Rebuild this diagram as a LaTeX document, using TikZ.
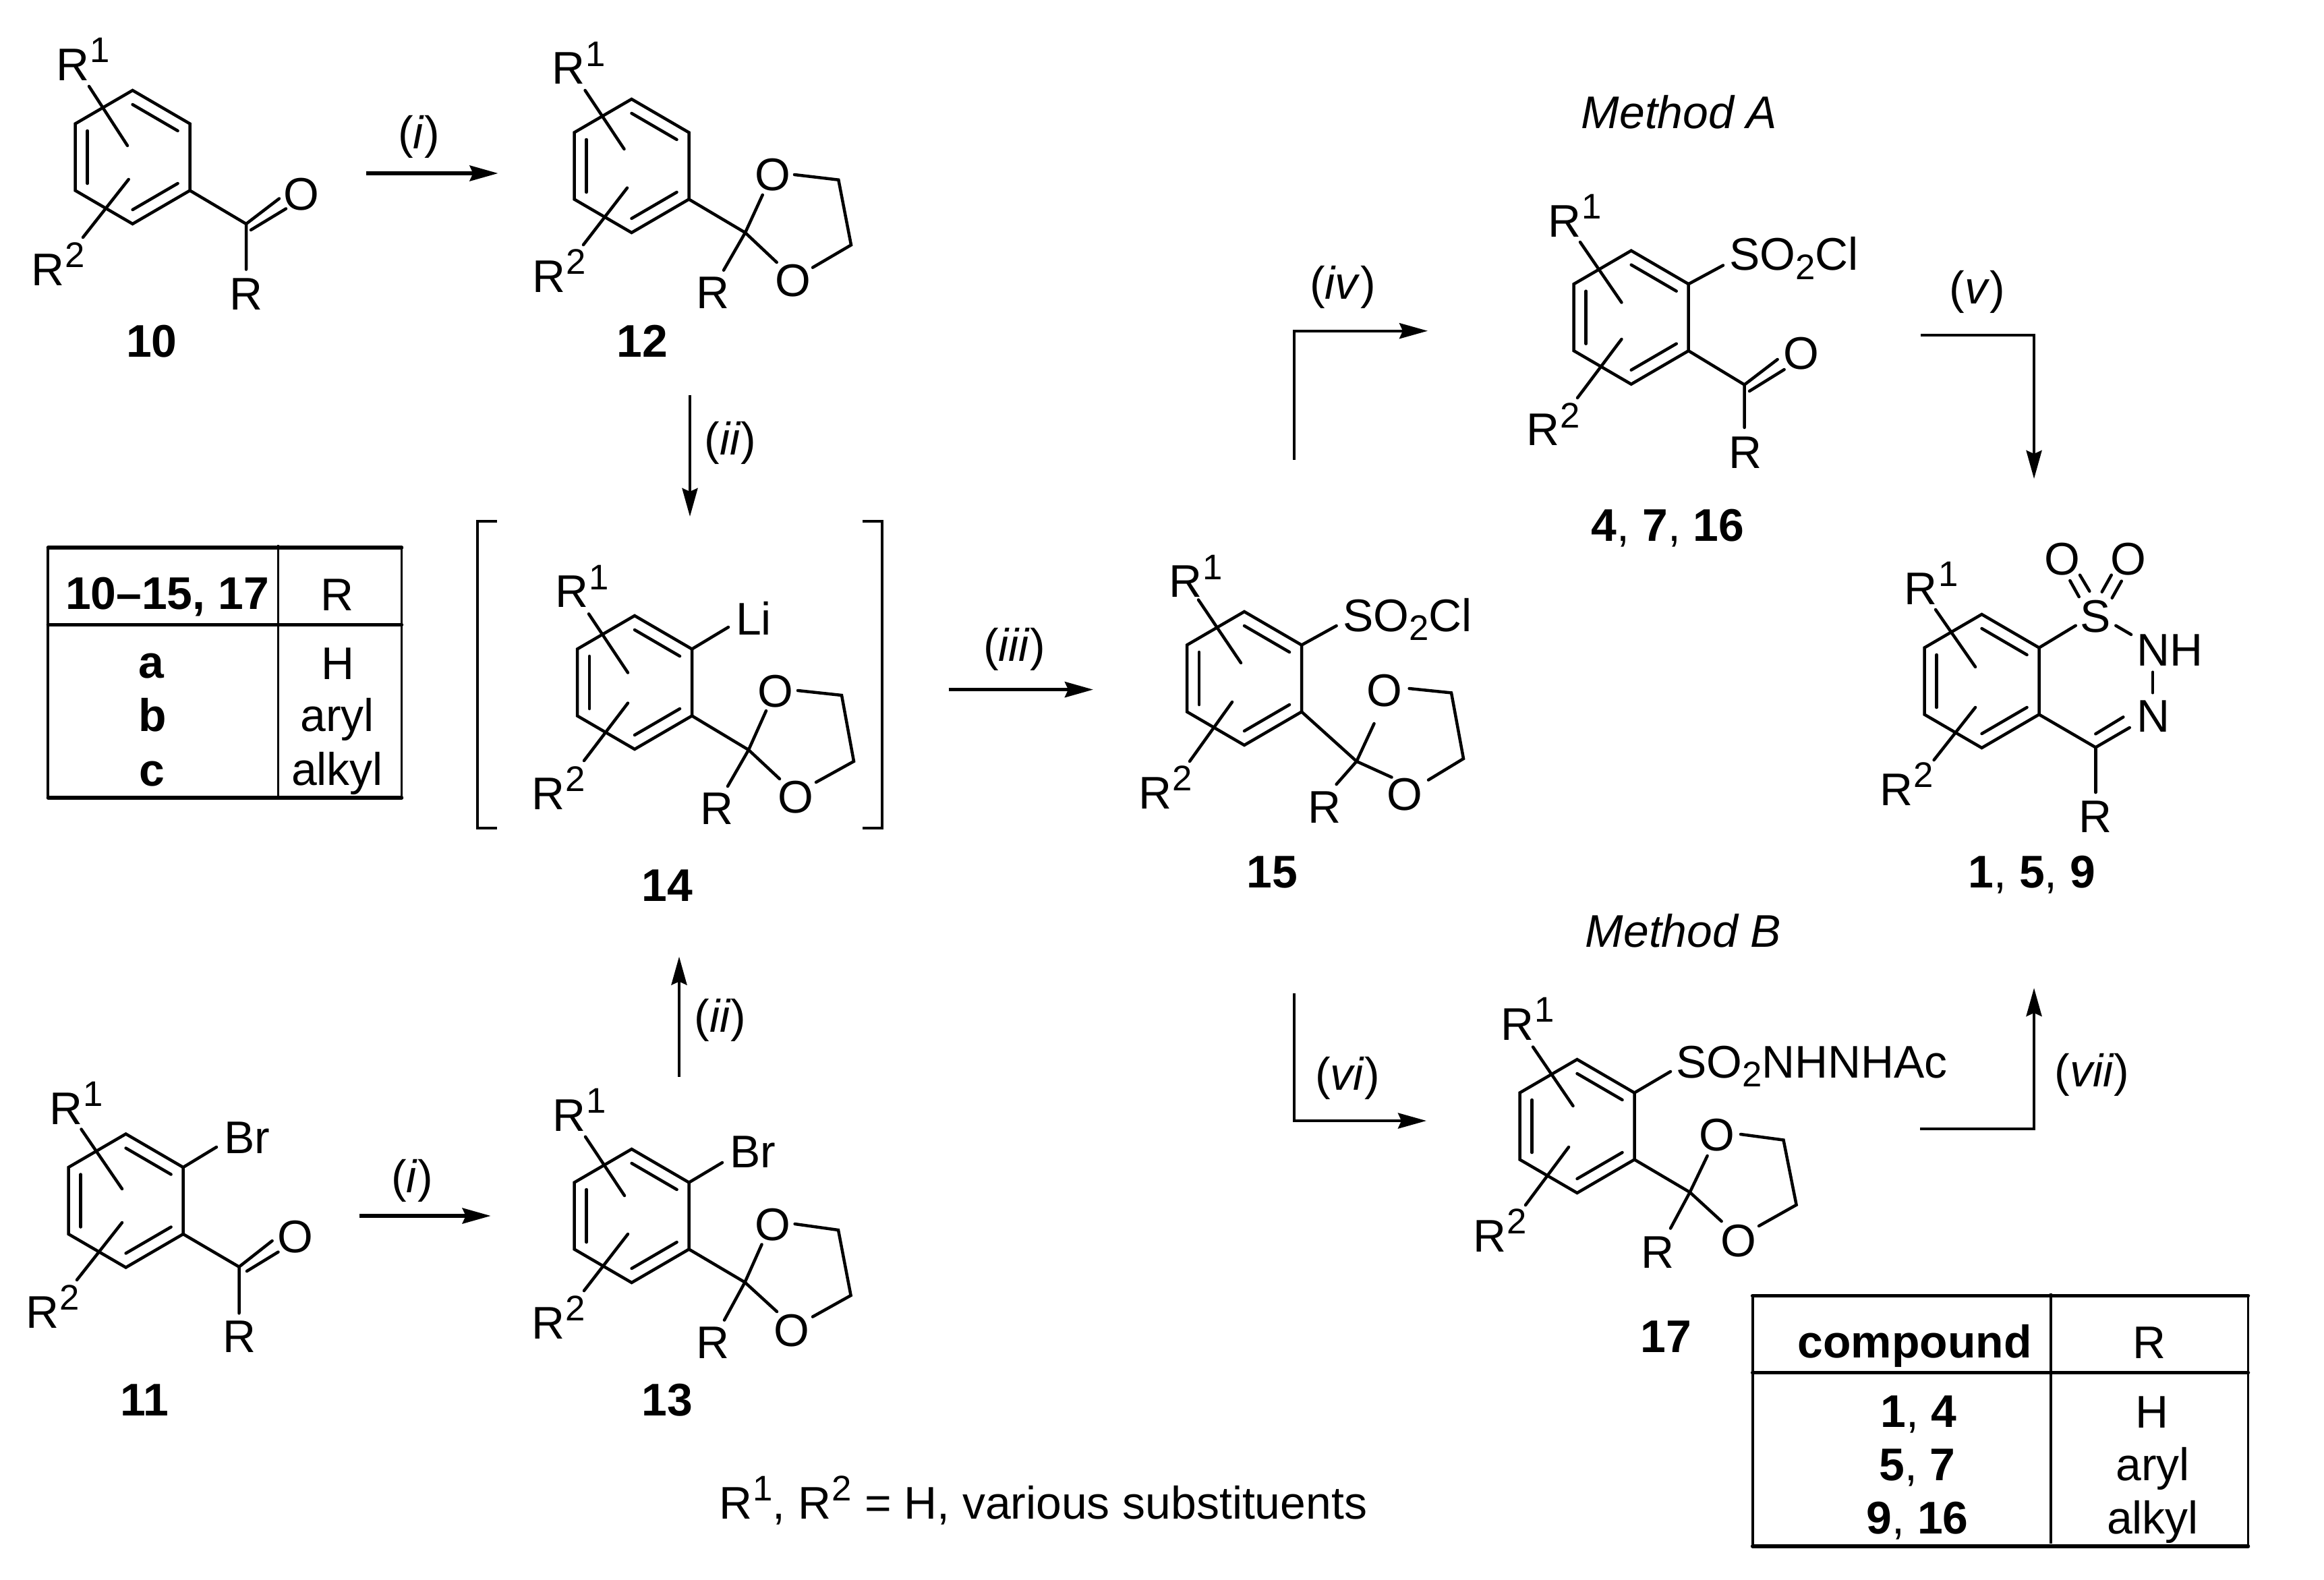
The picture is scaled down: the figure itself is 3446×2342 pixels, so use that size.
\documentclass[tikz,border=0pt]{standalone}
\usepackage{fontspec}
\setmainfont{Liberation Sans}
\usetikzlibrary{arrows.meta}
\newcommand\Supr[1]{\kern0.02em\raisebox{0.385em}{\fontsize{15}{17}\selectfont #1}}
\newcommand\Subr[1]{\raisebox{-0.2em}{\fontsize{15}{17}\selectfont #1}}
\newcommand\benz[3]{%
  \coordinate (#1) at (#2,#3);
  \coordinate (#1-t) at ([shift={(0,-99)}]#1);
  \coordinate (#1-ur) at ([shift={(85,-49.5)}]#1);
  \coordinate (#1-lr) at ([shift={(85,49.5)}]#1);
  \coordinate (#1-b) at ([shift={(0,99)}]#1);
  \coordinate (#1-ll) at ([shift={(-85,49.5)}]#1);
  \coordinate (#1-ul) at ([shift={(-85,-49.5)}]#1);
  \draw[bond] (#1-t) -- (#1-ur) -- (#1-lr) -- (#1-b) -- (#1-ll) -- (#1-ul) -- cycle;
  \draw[bond] ([shift={(0,-78)}]#1) -- ([shift={(67,-39)}]#1);
  \draw[bond] ([shift={(67,39)}]#1) -- ([shift={(0,78)}]#1);
  \draw[bond] ([shift={(-67,39)}]#1) -- ([shift={(-67,-39)}]#1);
}
\tikzset{
  x=0.01cm,y=-0.01cm,
  bond/.style={line width=1.28pt,line cap=round},
  rxn/.style={line width=1.45pt,-{Stealth[length=0.42cm,width=0.23cm,inset=0.05cm]}},
  rxnv/.style={line width=1.2pt,-{Stealth[length=0.42cm,width=0.23cm,inset=0.05cm]}},
  plainl/.style={line width=1.4pt},
  tabh/.style={line width=1.55pt,line cap=round},
  tabv/.style={line width=1.1pt},
  txt/.style={inner sep=0pt,outer sep=0pt,anchor=base,font=\fontsize{19.3}{22}\selectfont},
  txl/.style={txt,anchor=base west},
}
\begin{document}
\begin{tikzpicture}
\useasboundingbox (0,0) rectangle (3446,2342);

% ---- 10
\benz{mA}{196.6}{233}
\draw[bond] (132,128) -- (189,216);
\draw[bond] (190.7,266) -- (123,352);
\coordinate (cA) at (365,332);
\draw[bond] (mA-lr) -- (cA) -- (365,399.5);
\draw[bond] (cA) -- (414,294.5);
\draw[bond] (372,341) -- (424,309.5);
\node[txl] (a1) at (83,119) {R\Supr{1}};
\node[txl] (a2) at (46,423) {R\Supr{2}};
\node[txt] (a3) at (447,311) {O};
\node[txl] (a4) at (340,459) {R};
\node[txt] (a5) at (225,529) {\textbf{10}};

% ---- 12
\benz{mB}{936.5}{246}
\draw[bond] (867.6,134) -- (925.5,221);
\draw[bond] (930,278.6) -- (865,363);
\coordinate (cB) at (1105,345);
\draw[bond] (mB-lr) -- (cB) -- (1130.7,289);
\draw[bond] (cB) -- (1151.7,389);
\draw[bond] (cB) -- (1073,400.7);
\draw[bond] (1178,259) -- (1243.3,266.7) -- (1262,363.3) -- (1205,396.7);
\node[txl] (b1) at (818.6,124.4) {R\Supr{1}};
\node[txl] (b2) at (789,433) {R\Supr{2}};
\node[txt] (b3) at (1145.7,282) {O};
\node[txt] (b4) at (1175.7,439) {O};
\node[txl] (b5) at (1032,457.3) {R};
\node[txt] (b6) at (952,529) {\textbf{12}};

% ---- 14
\benz{mC}{941}{1012}
\draw[bond] (873,910.4) -- (931,997.5);
\draw[bond] (931,1042.6) -- (866,1128);
\draw[bond] (mC-ur) -- (1080,930);
\coordinate (cC) at (1110,1112);
\draw[bond] (mC-lr) -- (cC) -- (1136,1054);
\draw[bond] (cC) -- (1156,1155);
\draw[bond] (cC) -- (1079,1166);
\draw[bond] (1183,1024) -- (1248,1031) -- (1266,1129) -- (1210,1160);
\node[txl] (c1) at (823,900.6) {R\Supr{1}};
\node[txl] (c2) at (788,1200) {R\Supr{2}};
\node[txl] (c3) at (1091,941) {Li};
\node[txt] (c4) at (1150,1048) {O};
\node[txt] (c5) at (1180,1205) {O};
\node[txl] (c6) at (1038,1222) {R};
\node[txt] (c7) at (989,1336) {\textbf{14}};
\draw[plainl] (737,773) -- (708,773) -- (708,1228) -- (737,1228);
\draw[plainl] (1279,773) -- (1308,773) -- (1308,1228) -- (1279,1228);

% ---- 11
\benz{mD}{186.6}{1780.5}
\draw[bond] (120.5,1674.5) -- (181,1763);
\draw[bond] (181,1813) -- (114,1898);
\draw[bond] (mD-ur) -- (321,1701);
\coordinate (cD) at (354.5,1878.6);
\draw[bond] (mD-lr) -- (cD) -- (354.5,1947.4);
\draw[bond] (cD) -- (403.6,1840);
\draw[bond] (366,1885) -- (412.5,1856.6);
\node[txl] (d1) at (73,1667) {R\Supr{1}};
\node[txl] (d2) at (38,1969) {R\Supr{2}};
\node[txl] (d3) at (332.5,1710) {Br};
\node[txt] (d4) at (437.5,1857) {O};
\node[txl] (d5) at (330,2005) {R};
\node[txt] (d6) at (214,2099) {\textbf{11}};

% ---- 13
\benz{mE}{936.6}{1803}
\draw[bond] (868,1685.7) -- (926,1773);
\draw[bond] (931,1830) -- (866,1914);
\draw[bond] (mE-ur) -- (1071,1724);
\coordinate (cE) at (1104.5,1901.5);
\draw[bond] (mE-lr) -- (cE) -- (1129.5,1845.4);
\draw[bond] (cE) -- (1152,1945);
\draw[bond] (cE) -- (1074,1957.6);
\draw[bond] (1178.6,1815) -- (1243,1824) -- (1261.6,1921) -- (1205,1952.6);
\node[txl] (e1) at (819,1677) {R\Supr{1}};
\node[txl] (e2) at (788,1985) {R\Supr{2}};
\node[txl] (e3) at (1082.5,1731.6) {Br};
\node[txt] (e4) at (1145.5,1839) {O};
\node[txt] (e5) at (1174,1996) {O};
\node[txl] (e6) at (1032.5,2014) {R};
\node[txt] (e7) at (989,2099) {\textbf{13}};

% ---- 15
\benz{mF}{1845}{1006}
\draw[bond] (1777,889.5) -- (1840,983);
\draw[bond] (1827,1041) -- (1764,1129);
\draw[bond] (mF-ur) -- (1981.6,928);
\coordinate (cF) at (2011.5,1129);
\draw[bond] (mF-lr) -- (cF) -- (2037.5,1073);
\draw[bond] (cF) -- (2063.5,1152.6);
\draw[bond] (cF) -- (1981.6,1163);
\draw[bond] (2089.6,1021) -- (2152,1027.4) -- (2170,1125) -- (2118,1156.6);
\node[txl] (f1) at (1733,885.5) {R\Supr{1}};
\node[txl] (f2) at (1688,1199) {R\Supr{2}};
\node[txl] (f3) at (1991,936) {SO\Subr{2}Cl};
\node[txt] (f4) at (2053,1047) {O};
\node[txt] (f5) at (2083,1201) {O};
\node[txl] (f6) at (1939,1220) {R};
\node[txt] (f7) at (1886,1316) {\textbf{15}};

% ---- 4, 7, 16
\benz{mG}{2418.7}{470.7}
\draw[bond] (2343,359) -- (2404.4,448.5);
\draw[bond] (2404.4,503) -- (2339,590);
\draw[bond] (mG-ur) -- (2555,393.5);
\coordinate (cG) at (2586.6,570.5);
\draw[bond] (mG-lr) -- (cG) -- (2586.6,634);
\draw[bond] (cG) -- (2635.6,533);
\draw[bond] (2594,580) -- (2645.6,548);
\node[txl] (g1) at (2295,351) {R\Supr{1}};
\node[txl] (g2) at (2263,660.6) {R\Supr{2}};
\node[txl] (g3) at (2564.5,400.6) {SO\Subr{2}Cl};
\node[txt] (g4) at (2671,547) {O};
\node[txl] (g5) at (2563,694) {R};
\node[txt] (g6) at (2473,802) {\textbf{4}, \textbf{7}, \textbf{16}};

% ---- 1, 5, 9
\benz{mH}{2938.5}{1010}
\draw[bond] (2870,904) -- (2929,989);
\draw[bond] (2929,1049) -- (2867.6,1127);
\draw[bond] (mH-ur) -- (3077.7,927.7);
\draw[bond] (3069.3,861) -- (3082.7,885);
\draw[bond] (3084,852.7) -- (3098.3,876.7);
\draw[bond] (3130.7,852.7) -- (3116.7,877.7);
\draw[bond] (3145.7,861.7) -- (3131.7,886.7);
\draw[bond] (3137.3,927.7) -- (3160,941);
\draw[bond] (3192,996.7) -- (3192,1027.3);
\coordinate (cH) at (3107.3,1108.3);
\draw[bond] (mH-lr) -- (cH) -- (3157.7,1079);
\draw[bond] (3107.3,1088.3) -- (3148.3,1063.3);
\draw[bond] (cH) -- (3107.3,1175);
\node[txl] (h1) at (2823.6,896) {R\Supr{1}};
\node[txl] (h2) at (2787,1194) {R\Supr{2}};
\node[txt] (h3) at (3058.3,852) {O};
\node[txt] (h4) at (3155.7,852) {O};
\node[txt] (h5) at (3107.5,937) {S};
\node[txl] (h6) at (3168,987.3) {NH};
\node[txl] (h7) at (3168,1085) {N};
\node[txl] (h8) at (3082.5,1234) {R};
\node[txt] (h9) at (3013,1316) {\textbf{1}, \textbf{5}, \textbf{9}};

% ---- 17
\benz{mI}{2338.5}{1670}
\draw[bond] (2273,1552.5) -- (2332.5,1640);
\draw[bond] (2326,1701) -- (2262,1787);
\draw[bond] (mI-ur) -- (2477,1589);
\coordinate (cI) at (2505.7,1768);
\draw[bond] (mI-lr) -- (cI) -- (2531.6,1714);
\draw[bond] (cI) -- (2552.6,1811);
\draw[bond] (cI) -- (2477,1821.5);
\draw[bond] (2581,1682) -- (2644.5,1690.5) -- (2663.6,1786.7) -- (2608,1818);
\node[txl] (i1) at (2225,1542) {R\Supr{1}};
\node[txl] (i2) at (2184,1856) {R\Supr{2}};
\node[txl] (i3) at (2485,1598) {SO\Subr{2}NHNHAc};
\node[txt] (i4) at (2546,1706) {O};
\node[txt] (i5) at (2577.5,1863) {O};
\node[txl] (i6) at (2433,1880) {R};
\node[txt] (i7) at (2470,2005) {\textbf{17}};

% ---- arrows
\coordinate (r1s) at (543,257);   \coordinate (r1e) at (738.5,257);
\coordinate (r2s) at (533,1803);  \coordinate (r2e) at (727.7,1803);
\coordinate (r3s) at (1023,585.6);\coordinate (r3e) at (1023,766);
\coordinate (r4s) at (1007,1597); \coordinate (r4e) at (1007,1418.5);
\coordinate (r5s) at (1406.5,1022.6); \coordinate (r5e) at (1621,1022.6);
\coordinate (r6s) at (1919,682);  \coordinate (r6m) at (1919,490.7); \coordinate (r6e) at (2117,490.7);
\coordinate (r7s) at (2848,497);  \coordinate (r7m) at (3016,497);   \coordinate (r7e) at (3016,710);
\coordinate (r8s) at (1919,1473.4); \coordinate (r8m) at (1919,1662); \coordinate (r8e) at (2115,1662);
\coordinate (r9s) at (2847,1674); \coordinate (r9m) at (3016,1674);  \coordinate (r9e) at (3016,1465);
\draw[rxn] (r1s) -- (r1e);
\draw[rxn] (r2s) -- (r2e);
\draw[rxnv] (r3s) -- (r3e);
\draw[rxnv] (r4s) -- (r4e);
\draw[rxn] (r5s) -- (r5e);
\draw[rxnv] (r6s) -- (r6m) -- (r6e);
\draw[rxnv] (r7s) -- (r7m) -- (r7e);
\draw[rxnv] (r8s) -- (r8m) -- (r8e);
\draw[rxnv] (r9s) -- (r9m) -- (r9e);
\node[txt] (l1) at (621,220) {(\textit{i})};
\node[txt] (l2) at (611,1768) {(\textit{i})};
\node[txt] (l3) at (1083,674) {(\textit{ii})};
\node[txt] (l4) at (1068,1530) {(\textit{ii})};
\node[txt] (l5) at (1504,980) {(\textit{iii})};
\node[txt] (l6) at (1991,443) {(\textit{iv})};
\node[txt] (l7) at (2932,450) {(\textit{v})};
\node[txt] (l8) at (1998,1616) {(\textit{vi})};
\node[txt] (l9) at (3102,1611) {(\textit{vii})};
\node[txt] (ma) at (2490,190) {\textit{Method A}};
\node[txt] (mb) at (2496,1404) {\textit{Method B}};
\node[txl] (ft) at (1066,2252) {R\Supr{1}, R\Supr{2} = H, various substituents};

% ---- table 1
\draw[tabv] (71.4,812) -- (71.4,1183);
\draw[tabv] (595.5,812) -- (595.5,1183);
\draw[tabv] (412.5,808) -- (412.5,1180);
\draw[tabh] (71.4,812) -- (595.5,812);
\draw[tabh] (71.4,926.5) -- (595.5,926.5);
\draw[tabh] (71.4,1183) -- (595.5,1183);
\node[txt] (t1) at (248,903) {\textbf{10–15, 17}};
\node[txt] (t2) at (500,905) {R};
\node[txt] (t3) at (225,1005) {\textbf{a}};
\node[txt] (t4) at (501,1007) {H};
\node[txt] (t5) at (226,1084) {\textbf{b}};
\node[txt] (t6) at (500,1084) {aryl};
\node[txt] (t7) at (225,1165) {\textbf{c}};
\node[txt] (t8) at (500,1164) {alkyl};

% ---- table 2
\draw[tabv] (2598.6,1921.5) -- (2598.6,2293);
\draw[tabv] (3333.5,1921.5) -- (3333.5,2293);
\draw[tabv] (3040.7,1918) -- (3040.7,2288.6);
\draw[tabh] (2598.6,1921.5) -- (3333.5,1921.5);
\draw[tabh] (2598.6,2035.5) -- (3333.5,2035.5);
\draw[tabh] (2598.6,2293) -- (3333.5,2293);
\node[txt] (u1) at (2839,2013) {\textbf{compound}};
\node[txt] (u2) at (3187,2014.6) {R};
\node[txt] (u3) at (2845,2116) {\textbf{1}, \textbf{4}};
\node[txt] (u4) at (3191,2117) {H};
\node[txt] (u5) at (2843,2195) {\textbf{5}, \textbf{7}};
\node[txt] (u6) at (3192,2195) {aryl};
\node[txt] (u7) at (2843,2274) {\textbf{9}, \textbf{16}};
\node[txt] (u8) at (3192,2274) {alkyl};
\end{tikzpicture}
\end{document}
